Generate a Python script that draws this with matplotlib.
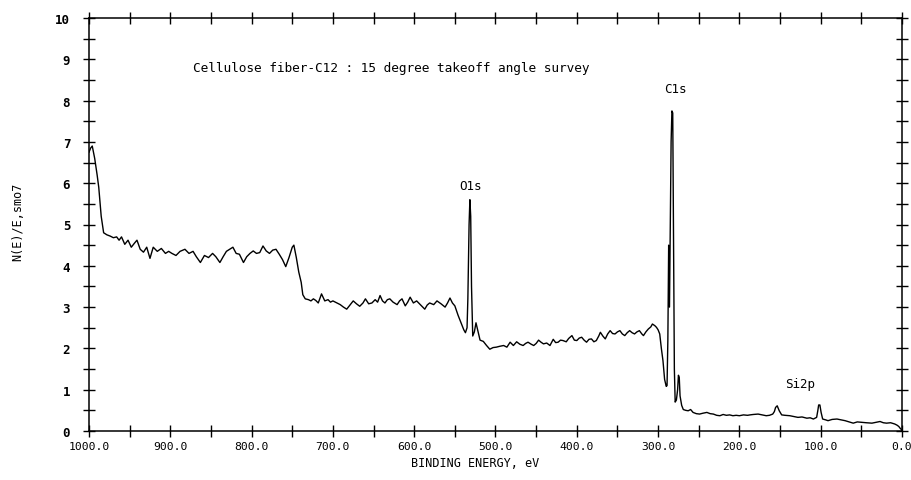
import numpy as np
import matplotlib.pyplot as plt
from matplotlib.ticker import MultipleLocator

# binding energy (eV) and N(E)/E
energy = [1000, 998, 996, 993, 990, 988, 985, 982, 978, 974, 970, 966, 963, 960, 956, 952,
          948, 944, 941, 937, 933, 929, 925, 921, 916, 911, 906, 902, 898, 893, 888, 882,
          877, 872, 868, 863, 858, 853, 848, 844, 839, 835, 831, 827, 823, 819, 815, 810,
          806, 802, 798, 794, 790, 786, 782, 778, 774, 770, 766, 762, 758, 754, 750, 748,
          745, 742, 739, 737, 734, 730, 727, 724, 721, 718, 714, 710, 706, 703, 700, 695,
          691, 687, 683, 679, 675, 671, 667, 663, 660, 656, 652, 648, 645, 642, 639, 636,
          633, 630, 626, 621, 618, 615, 611, 608, 605, 601, 597, 592, 587, 584, 581, 576,
          572, 567, 562, 559, 556, 553, 550, 546, 542, 539, 537, 535, 534, 532.5, 531.5, 530.5,
          529.5, 528, 526, 524, 522, 519, 515, 511, 507, 503, 499, 495, 490, 486, 482, 478,
          474, 470, 466, 463, 460, 456, 453, 450, 447, 444, 441, 437, 433, 429, 426, 423,
          420, 417, 413, 410, 406, 403, 400, 397, 394, 391, 388, 385, 382, 379, 376, 373,
          371, 368, 365, 362, 359, 356, 353, 350, 347, 344, 341, 338, 335, 332, 329, 326,
          323, 320, 318, 315, 312, 309, 307, 304, 302, 300, 298, 296, 294, 292, 290, 289,
          288, 287, 286, 285, 284, 283, 282, 281, 280, 279, 277.5, 276, 275, 274, 273, 271,
          269, 266, 263, 260, 257, 253, 249, 245, 240, 236, 232, 228, 224, 220, 216, 212,
          208, 204, 200, 195, 190, 187, 183, 177, 172, 167, 163, 159, 157, 155.5, 153.5, 151,
          148, 144, 138, 133, 128, 123, 117, 113, 109, 105, 103.5, 102.5, 101, 99.5, 97.6, 94,
          91, 86, 80, 75, 70, 65, 60, 55, 50, 44, 37, 32, 27, 23, 19, 14,
          9, 6, 4, 2, 0]
counts = [6.75, 6.85, 6.9, 6.6, 6.2, 5.9, 5.2, 4.8, 4.75, 4.72, 4.68, 4.7, 4.62, 4.7, 4.52, 4.62,
          4.45, 4.55, 4.62, 4.4, 4.33, 4.45, 4.18, 4.45, 4.35, 4.42, 4.3, 4.35, 4.3, 4.25, 4.35, 4.4,
          4.3, 4.35, 4.22, 4.08, 4.25, 4.2, 4.3, 4.22, 4.08, 4.22, 4.35, 4.4, 4.45, 4.3, 4.28, 4.08,
          4.22, 4.3, 4.36, 4.3, 4.32, 4.48, 4.36, 4.3, 4.38, 4.4, 4.28, 4.15, 3.98, 4.2, 4.45, 4.5,
          4.2, 3.85, 3.6, 3.3, 3.2, 3.18, 3.15, 3.2, 3.16, 3.1, 3.32, 3.15, 3.18, 3.12, 3.15, 3.1,
          3.06, 3.0, 2.95, 3.05, 3.15, 3.08, 3.02, 3.1, 3.2, 3.08, 3.1, 3.18, 3.12, 3.28, 3.15, 3.1,
          3.18, 3.2, 3.12, 3.06, 3.15, 3.2, 3.03, 3.12, 3.24, 3.1, 3.15, 3.05, 2.95, 3.05, 3.1, 3.06,
          3.15, 3.08, 3.0, 3.1, 3.22, 3.1, 3.03, 2.8, 2.6, 2.45, 2.38, 2.5, 3.2, 5.0, 5.6, 5.2,
          3.5, 2.3, 2.4, 2.62, 2.45, 2.2, 2.17, 2.07, 1.98, 2.02, 2.03, 2.05, 2.07, 2.03, 2.15, 2.07,
          2.16, 2.1, 2.07, 2.12, 2.15, 2.1, 2.07, 2.12, 2.2, 2.15, 2.11, 2.13, 2.07, 2.22, 2.14, 2.15,
          2.2, 2.19, 2.16, 2.24, 2.31, 2.2, 2.19, 2.25, 2.27, 2.2, 2.15, 2.22, 2.23, 2.16, 2.19, 2.3,
          2.39, 2.3, 2.23, 2.35, 2.43, 2.36, 2.35, 2.4, 2.43, 2.35, 2.31, 2.38, 2.43, 2.38, 2.35, 2.4,
          2.43, 2.35, 2.31, 2.4, 2.47, 2.52, 2.59, 2.55, 2.51, 2.45, 2.35, 2.0, 1.7, 1.25, 1.08, 1.1,
          2.2, 4.5, 3.0, 5.0, 7.0, 7.75, 7.7, 4.5, 1.5, 0.7, 0.75, 1.0, 1.35, 1.3, 0.85, 0.62,
          0.52, 0.5, 0.49, 0.52, 0.45, 0.42, 0.41, 0.43, 0.45, 0.42, 0.41, 0.38, 0.37, 0.4, 0.38, 0.39,
          0.37, 0.38, 0.37, 0.39, 0.38, 0.39, 0.4, 0.41, 0.39, 0.37, 0.38, 0.41, 0.47, 0.57, 0.61, 0.49,
          0.39, 0.38, 0.37, 0.35, 0.33, 0.34, 0.31, 0.32, 0.29, 0.33, 0.5, 0.63, 0.63, 0.45, 0.29, 0.27,
          0.25, 0.28, 0.29, 0.27, 0.25, 0.22, 0.19, 0.22, 0.21, 0.2, 0.19, 0.21, 0.23, 0.2, 0.19, 0.2,
          0.17, 0.14, 0.11, 0.06, 0.02]

x_ticks = [1000, 900, 800, 700, 600, 500, 400, 300, 200, 100, 0]
x_ticklabels = ['1000.0', '900.0', '800.0', '700.0', '600.0', '500.0',
                '400.0', '300.0', '200.0', '100.0', '0.0']
y_ticks = list(range(0, 11))

peaks = ['O1s', 'C1s', 'Si2p']
peak_pos = [(531, 5.95), (279, 8.3), (125, 1.15)]
title = 'Cellulose fiber-C12 : 15 degree takeoff angle survey'

mono = 'DejaVu Sans Mono'

fig = plt.figure(figsize=(9.12, 4.81), dpi=100)
ax = fig.add_axes([89/912, 49/481, 813/912, 413/481])

ax.plot(energy, counts, color='black', lw=1.0)

ax.set_xlim(1000, 0)
ax.set_ylim(0, 10)

ax.set_xticks(x_ticks)
ax.set_xticklabels(x_ticklabels, family=mono, fontsize=8.2)
ax.set_yticks(y_ticks)
ax.set_yticklabels([str(v) for v in y_ticks], family=mono, fontsize=9, fontweight='bold')
ax.xaxis.set_minor_locator(MultipleLocator(50))
ax.yaxis.set_minor_locator(MultipleLocator(0.5))
ax.tick_params(which='both', direction='inout', length=9, width=1.0,
               top=True, right=True, color='black')
ax.tick_params(axis='x', which='major', pad=3)
ax.tick_params(axis='y', which='major', pad=9)

for s in ax.spines.values():
    s.set_linewidth(1.1)

ax.set_xlabel('BINDING ENERGY, eV', family=mono, fontsize=8.5)
ax.xaxis.set_label_coords(0.475, -0.06)
ax.set_ylabel('N(E)/E,smo7', family=mono, fontsize=8.5)
ax.yaxis.set_label_coords(-0.08, 0.508)

ax.text(628, 8.79, title, family=mono, fontsize=9.2, ha='center', va='center')
for name, (px, py) in zip(peaks, peak_pos):
    ax.text(px, py, name, family=mono, fontsize=9, ha='center', va='center')

fig.savefig('out.png', dpi=100)
